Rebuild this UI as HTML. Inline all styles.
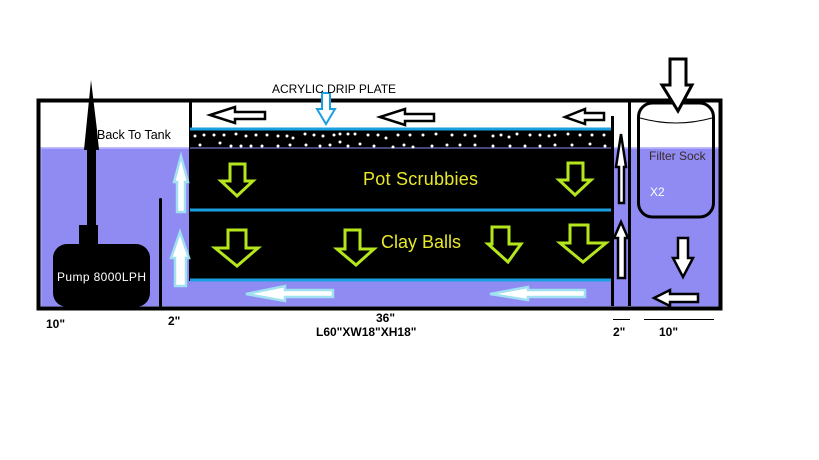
<!DOCTYPE html>
<html><head><style>
html,body{margin:0;padding:0;background:#fff;width:819px;height:460px;overflow:hidden}
svg{display:block}
text{font-family:"Liberation Sans",sans-serif}
</style></head><body>
<svg width="819" height="460" viewBox="0 0 819 460" xmlns="http://www.w3.org/2000/svg">
<rect x="40" y="148" width="680" height="160" fill="#8f8bf2"/>
<line x1="40" y1="148" x2="720" y2="148" stroke="#7f7cf0" stroke-width="1"/>
<rect x="41" y="148.5" width="678" height="158" fill="none" stroke="#b0adff" stroke-width="1"/>
<rect x="38.5" y="100.5" width="682" height="208" fill="none" stroke="#000" stroke-width="4"/>
<rect x="189" y="130" width="423" height="151" fill="#000"/>
<rect x="189" y="101" width="3" height="30" fill="#000"/>
<line x1="190" y1="129" x2="612" y2="129" stroke="#1aa0e0" stroke-width="3"/>
<line x1="190" y1="210" x2="612" y2="210" stroke="#1aa0e0" stroke-width="3"/>
<line x1="190" y1="280" x2="612" y2="280" stroke="#1aa0e0" stroke-width="3"/>
<line x1="190" y1="148" x2="612" y2="148" stroke="#8f8bf2" stroke-width="1"/>
<g fill="#fff">
<circle cx="195" cy="136" r="1.5"/><circle cx="204" cy="135" r="1.5"/><circle cx="214" cy="135" r="1.5"/><circle cx="224" cy="135" r="1.5"/><circle cx="236" cy="134" r="1.5"/><circle cx="246" cy="136" r="1.5"/><circle cx="256" cy="135" r="1.5"/><circle cx="267" cy="135" r="1.5"/><circle cx="278" cy="136" r="1.5"/><circle cx="287" cy="136" r="1.5"/><circle cx="293" cy="138" r="1.5"/><circle cx="305" cy="134" r="1.5"/><circle cx="314" cy="135" r="1.5"/><circle cx="323" cy="136" r="1.5"/><circle cx="334" cy="135" r="1.5"/><circle cx="340" cy="134" r="1.5"/><circle cx="348" cy="134" r="1.5"/><circle cx="355" cy="134" r="1.5"/><circle cx="368" cy="135" r="1.5"/><circle cx="378" cy="135" r="1.5"/><circle cx="386" cy="138" r="1.5"/><circle cx="398" cy="135" r="1.5"/><circle cx="410" cy="135" r="1.5"/><circle cx="423" cy="135" r="1.5"/><circle cx="436" cy="134" r="1.5"/><circle cx="452" cy="135" r="1.5"/><circle cx="465" cy="135" r="1.5"/><circle cx="475" cy="136" r="1.5"/><circle cx="493" cy="136" r="1.5"/><circle cx="501" cy="135" r="1.5"/><circle cx="509" cy="137" r="1.5"/><circle cx="517" cy="134" r="1.5"/><circle cx="530" cy="135" r="1.5"/><circle cx="540" cy="135" r="1.5"/><circle cx="549" cy="136" r="1.5"/><circle cx="555" cy="135" r="1.5"/><circle cx="568" cy="134" r="1.5"/><circle cx="580" cy="135" r="1.5"/><circle cx="592" cy="135" r="1.5"/><circle cx="604" cy="135" r="1.5"/>
<circle cx="200" cy="145" r="1.5"/><circle cx="220" cy="143" r="1.5"/><circle cx="231" cy="146" r="1.5"/><circle cx="241" cy="146" r="1.5"/><circle cx="251" cy="146" r="1.5"/><circle cx="262" cy="146" r="1.5"/><circle cx="278" cy="146" r="1.5"/><circle cx="290" cy="145" r="1.5"/><circle cx="306" cy="145" r="1.5"/><circle cx="320" cy="146" r="1.5"/><circle cx="330" cy="145" r="1.5"/><circle cx="340" cy="142" r="1.5"/><circle cx="348" cy="146" r="1.5"/><circle cx="360" cy="144" r="1.5"/><circle cx="374" cy="146" r="1.5"/><circle cx="393" cy="147" r="1.5"/><circle cx="404" cy="145" r="1.5"/><circle cx="413" cy="147" r="1.5"/><circle cx="432" cy="146" r="1.5"/><circle cx="447" cy="145" r="1.5"/><circle cx="460" cy="145" r="1.5"/><circle cx="475" cy="145" r="1.5"/><circle cx="493" cy="146" r="1.5"/><circle cx="510" cy="146" r="1.5"/><circle cx="525" cy="146" r="1.5"/><circle cx="540" cy="146" r="1.5"/><circle cx="555" cy="145" r="1.5"/><circle cx="572" cy="145" r="1.5"/><circle cx="590" cy="144" r="1.5"/><circle cx="605" cy="146" r="1.5"/>
</g>
<rect x="611" y="116" width="3" height="190" fill="#000"/>
<rect x="628" y="100" width="3" height="206" fill="#000"/>
<rect x="159" y="198" width="3" height="109" fill="#000" rx="1.5"/>
<rect x="638.5" y="103" width="75" height="114" rx="14" fill="none" stroke="#000" stroke-width="3"/>
<path d="M640 118 Q676 128 712 118" fill="none" stroke="#000" stroke-width="1"/>
<polygon points="670,59 686,59 686,85 692,85 678,111 662,85 670,85" fill="#fff" stroke="#000" stroke-width="3"/>
<polygon points="678,238 688,238 688,258 693,258 683,277 673,258 678,258" fill="#fff" stroke="#000" stroke-width="2.5"/>
<polygon points="698,294 698,302 670,302 670,306 654,298 670,290 670,294" fill="#fff" stroke="#000" stroke-width="2.5"/>
<rect x="87" y="150" width="9" height="78" fill="#000"/>
<polygon points="91,80 97,130 99,150 84,150 86,130" fill="#000"/>
<rect x="79" y="225" width="19" height="22" fill="#000"/>
<rect x="53" y="244" width="97" height="63" rx="14" fill="#000"/>
<polygon points="265,112 265,119 235,119 235,123 210,115 235,107 235,112" fill="#fff" stroke="#000" stroke-width="2.5"/>
<polygon points="434,114 434,121 405,121 405,125 380,117 405,109 405,114" fill="#fff" stroke="#000" stroke-width="2.5"/>
<polygon points="604,113 604,120 585,120 585,124 565,117 585,109 585,113" fill="#fff" stroke="#000" stroke-width="2.5"/>
<polygon points="322,93 330,93 330,109 335,109 326,124 317,109 322,109" fill="#fff" stroke="#1aa0e0" stroke-width="2"/>
<polygon points="177,212 185,212 185,182 188,182 181,156 174,182 177,182" fill="#fff" stroke="#a0e0f0" stroke-width="2.5"/>
<polygon points="175,286 186,286 186,258 189,258 180,232 171,258 175,258" fill="#fff" stroke="#a0e0f0" stroke-width="2.5"/>
<polygon points="619,203 624,203 624,167 626,167 621,134 616,167 619,167" fill="#fff" stroke="#000" stroke-width="2.5"/>
<polygon points="618,278 625,278 625,238 628,238 621,222 614,238 618,238" fill="#fff" stroke="#000" stroke-width="2.5"/>
<polygon points="333,290 333,297 285,297 285,301 246,294 285,286 285,290" fill="#fff" stroke="#a0e0f0" stroke-width="2.5"/>
<polygon points="585,290 585,297 528,297 528,300 490,294 528,287 528,290" fill="#fff" stroke="#a0e0f0" stroke-width="2.5"/>
<g fill="none" stroke="#b5e61d" stroke-width="3">
<polygon points="230,164 245,164 245,181 253,181 237,196 221,181 230,181"/>
<polygon points="568,163 583,163 583,180 591,180 575,195 559,180 568,180"/>
<polygon points="228,230 246,230 246,248 258,248 237,266 215,248 228,248"/>
<polygon points="345,230 360,230 360,249 374,249 356,265 337,249 345,249"/>
<polygon points="492,227 509,227 509,244 521,244 508,262 488,244 492,244"/>
<polygon points="570,225 588,225 588,243 606,243 583,262 560,243 570,243"/>
</g>
<text x="272" y="93" font-size="12" fill="#000">ACRYLIC DRIP PLATE</text>
<text x="97" y="139" font-size="12.5" fill="#000">Back To Tank</text>
<text x="363" y="185" font-size="18" fill="#e8e82a" textLength="115">Pot Scrubbies</text>
<text x="381" y="248" font-size="18" fill="#e8e82a" textLength="80">Clay Balls</text>
<text x="57" y="281" font-size="12" fill="#fff" textLength="89">Pump 8000LPH</text>
<text x="649" y="160" font-size="12" fill="#3a2a2a">Filter Sock</text>
<text x="650" y="196" font-size="12" fill="#fff">X2</text>
<text x="46" y="328" font-size="12" font-weight="bold" fill="#000">10"</text>
<text x="168" y="325" font-size="12" font-weight="bold" fill="#000">2"</text>
<text x="376" y="322" font-size="12" font-weight="bold" fill="#000">36"</text>
<text x="316" y="336" font-size="12" font-weight="bold" fill="#000">L60"XW18"XH18"</text>
<text x="613" y="336" font-size="12" font-weight="bold" fill="#000">2"</text>
<text x="659" y="336" font-size="12" font-weight="bold" fill="#000">10"</text>
<line x1="613" y1="319.5" x2="630" y2="319.5" stroke="#000" stroke-width="1"/>
<line x1="644" y1="319.5" x2="714" y2="319.5" stroke="#000" stroke-width="1"/>
</svg>
</body></html>
